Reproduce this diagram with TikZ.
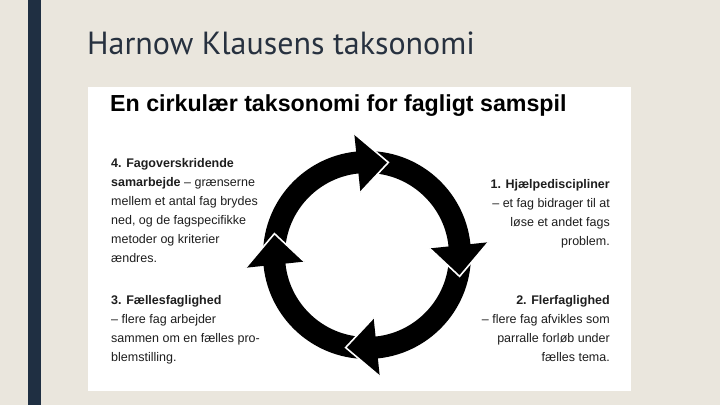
\documentclass[tikz,border=0pt]{standalone}
\usepackage{fontspec}
\setmainfont{Liberation Sans}
\newfontfamily\titlefont{PT Sans}
\definecolor{bgc}{HTML}{EAE6DD}
\definecolor{barc}{HTML}{1F2F42}
\definecolor{titlec}{HTML}{27313F}
\definecolor{bodyc}{HTML}{1E1E1E}
\tikzset{
  blocktext/.style={inner sep=0pt, font=\fontsize{12.5}{19}\selectfont, text=bodyc},
  ringline/.style={line width=22pt, draw=black},
  headfill/.style={fill=black},
  headedge/.style={draw=white, line width=1.6pt, line join=miter}
}
\begin{document}
\begin{tikzpicture}[x=1pt,y=1pt]
\useasboundingbox (0,0) rectangle (720,405);
\fill[bgc] (0,0) rectangle (720,405);
\fill[barc] (28,0) rectangle (41,405);
\fill[white] (88,14) rectangle (631,318);
\node[anchor=base west, inner sep=0pt, text=titlec, font=\titlefont\fontsize{32}{36}\selectfont] (title) at (87,350) {Harnow Klausens taksonomi};
\node[anchor=base west, inner sep=0pt, font=\bfseries\fontsize{23.2}{26}\selectfont] (head) at (110,293) {En cirkulær taksonomi for fagligt samspil};
\coordinate (c) at (367,150);
\draw[ringline] (c) circle[radius=93];
\begin{scope}[shift={(c)}]
\foreach \b in {96,6,-84,-174}{
  \fill[headfill] (\b:122) -- (\b:63) -- (\b-19:95) -- cycle;
  \draw[headedge] (\b:122) -- (\b-19:95) -- (\b:63);
}
\end{scope}
\node[blocktext, anchor=north west, align=left] (b4) at (111,247) {\textbf{4. Fagoverskridende}\\\textbf{samarbejde} – grænserne\\mellem et antal fag brydes\\ned, og de fagspecifikke\\metoder og kriterier\\ændres.};
\node[blocktext, anchor=north west, align=left] (b3) at (111,110) {\textbf{3. Fællesfaglighed}\\– flere fag arbejder\\sammen om en fælles pro-\\blemstilling.};
\node[blocktext, anchor=north east, align=right] (b1) at (610,226) {\textbf{1. Hjælpediscipliner}\\– et fag bidrager til at\\løse et andet fags\\problem.};
\node[blocktext, anchor=north east, align=right] (b2) at (610,110) {\textbf{2. Flerfaglighed}\\– flere fag afvikles som\\parralle forløb under\\fælles tema.};
\end{tikzpicture}
\end{document}
